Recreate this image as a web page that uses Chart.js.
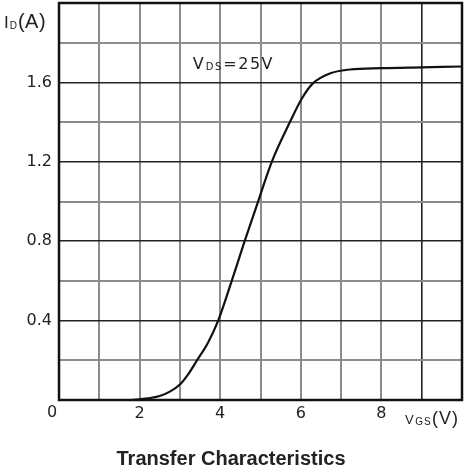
<!DOCTYPE html>
<html>
<head>
<meta charset="utf-8">
<script src="https://cdn.jsdelivr.net/npm/chart.js@4.4.1/dist/chart.umd.min.js"></script>
<style>
  html, body { margin: 0; padding: 0; background: #fff; }
  #wrap { width: 464px; height: 476px; }
</style>
</head>
<body>
<div id="wrap"><canvas id="c"></canvas></div>
<script>
// Transfer characteristics, VDS = 25V
const vgs = [1.8, 2.2, 2.5, 2.75, 3.0, 3.2, 3.42, 3.7, 3.95, 4.27, 4.59, 4.94, 5.28, 5.73, 6.03, 6.3, 6.72, 7.22, 8.0, 9.0, 10.0];
const idA = [0, 0.008, 0.02, 0.042, 0.078, 0.128, 0.198, 0.29, 0.40, 0.59, 0.79, 1.0, 1.2, 1.4, 1.52, 1.595, 1.645, 1.665, 1.672, 1.676, 1.68];
const xTickLabels = [2, 4, 6, 8];
const yTickLabels = [0.4, 0.8, 1.2, 1.6];
const titleText = "Transfer Characteristics";

const textColor = "#222";
const fontFam = "'Liberation Sans', Arial, sans-serif";
const tickFam = "'DejaVu Sans', sans-serif";

// draws a run of [text, size, dy] pieces starting at x
function drawRuns(ctx, runs, x, y, fam, spacing) {
    ctx.textBaseline = "alphabetic";
    ctx.textAlign = "left";
    ctx.letterSpacing = spacing + "px";
    for (const [t, fs, dy] of runs) {
        ctx.font = `${fs}px ${fam}`;
        ctx.fillText(t, x, y + dy);
        x += ctx.measureText(t).width + 0.5;
    }
    ctx.letterSpacing = "0px";
}

const isMajor = v => Math.abs(v / 0.4 - Math.round(v / 0.4)) < 1e-6;

const extras = {
    id: "extras",
    afterDraw(chart) {
        const { ctx, chartArea, scales } = chart;
        ctx.save();
        // frame
        ctx.strokeStyle = "#111";
        ctx.lineWidth = 2.5;
        ctx.strokeRect(chartArea.left, chartArea.top, chartArea.right - chartArea.left, chartArea.bottom - chartArea.top);

        ctx.fillStyle = textColor;
        // origin label
        ctx.font = `16px ${tickFam}`;
        ctx.textAlign = "center";
        ctx.textBaseline = "top";
        ctx.fillText("0", chartArea.left - 7, chartArea.bottom + 5);

        // axis names
        drawRuns(ctx, [["I", 17, 0], ["D", 10, 1], ["(A)", 20, 0]], 4, 28, fontFam, 0.5);
        drawRuns(ctx, [["V", 13, 0], ["GS", 10, 1], ["(V)", 18, 0]], 405, 424, fontFam, 1);

        // condition annotation
        const ax = scales.x.getPixelForValue(3.32);
        const ay = scales.y.getPixelForValue(1.67);
        drawRuns(ctx, [["V", 16, 0], ["DS", 10, 1], ["=25V", 16, 0]], ax, ay, tickFam, 1.5);
        ctx.restore();
    }
};

new Chart(document.getElementById("c"), {
    type: "line",
    plugins: [extras],
    data: {
        datasets: [{
            data: vgs.map((v, i) => ({ x: v, y: idA[i] })),
            borderColor: "#111",
            borderWidth: 2.2,
            pointRadius: 0,
            cubicInterpolationMode: "monotone",
            fill: false
        }]
    },
    options: {
        responsive: true,
        maintainAspectRatio: false,
        animation: false,
        layout: { padding: { top: 3, right: 2, left: 0, bottom: 0 } },
        plugins: {
            legend: { display: false },
            tooltip: { enabled: false },
            title: {
                display: true,
                position: "bottom",
                text: titleText,
                color: textColor,
                font: { family: fontFam, size: 20, weight: "bold" },
                padding: { top: 15, bottom: 5 }
            }
        },
        scales: {
            x: {
                type: "linear",
                min: 0,
                max: 10,
                afterFit(scale) {
                    scale.height = 32;
                    scale.paddingLeft = 0;
                    scale.paddingRight = 0;
                },
                ticks: {
                    stepSize: 1,
                    color: textColor,
                    padding: 4,
                    font: { family: tickFam, size: 16 },
                    maxRotation: 0,
                    autoSkip: false,
                    callback: v => xTickLabels.includes(v) ? String(v) : ""
                },
                grid: {
                    drawTicks: false,
                    color: ctx => ctx.tick && ctx.tick.value === 9 ? "#222" : "#8c8c8c",
                    lineWidth: ctx => ctx.tick && ctx.tick.value === 9 ? 1.6 : 2
                },
                border: { display: false }
            },
            y: {
                min: 0,
                max: 2,
                afterFit(scale) {
                    scale.width = 59;
                    scale.paddingTop = 0;
                    scale.paddingBottom = 0;
                },
                ticks: {
                    stepSize: 0.2,
                    color: textColor,
                    padding: 7,
                    font: { family: tickFam, size: 16 },
                    autoSkip: false,
                    callback: v => yTickLabels.some(t => Math.abs(t - v) < 1e-6) ? v.toFixed(1) : ""
                },
                grid: {
                    drawTicks: false,
                    color: ctx => isMajor(ctx.tick ? ctx.tick.value : 0) ? "#222" : "#8c8c8c",
                    lineWidth: ctx => isMajor(ctx.tick ? ctx.tick.value : 0) ? 1.6 : 2
                },
                border: { display: false }
            }
        }
    }
});
</script>
</body>
</html>
